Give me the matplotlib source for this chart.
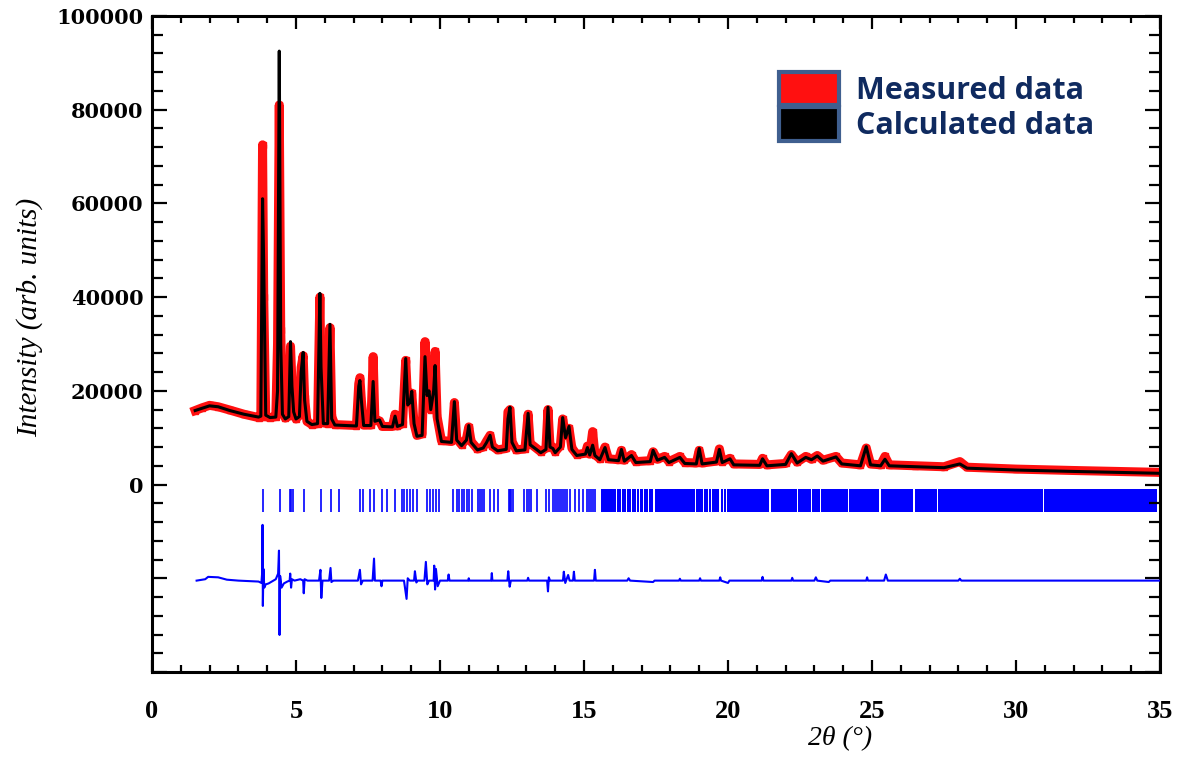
import matplotlib
matplotlib.use('Agg')
import matplotlib.pyplot as plt
from matplotlib.patches import Patch
from matplotlib.ticker import MultipleLocator

# profile vertices (2theta, calculated, measured)
two_theta = [
    1.50, 1.75, 2.00, 2.30, 2.70, 3.20, 3.70, 3.78, 3.84, 3.88,
    3.95, 4.10, 4.30, 4.36, 4.42, 4.47, 4.53, 4.63, 4.75, 4.81,
    4.86, 4.92, 5.00, 5.12, 5.18, 5.25, 5.30, 5.38, 5.55, 5.75,
    5.83, 5.87, 5.95, 6.10, 6.18, 6.24, 6.35, 7.10, 7.18, 7.22,
    7.27, 7.35, 7.60, 7.68, 7.74, 7.90, 8.00, 8.35, 8.44, 8.52,
    8.70, 8.81, 8.88, 8.96, 9.02, 9.10, 9.20, 9.38, 9.48, 9.55,
    9.62, 9.68, 9.78, 9.83, 9.90, 10.05, 10.40, 10.50, 10.58, 10.75,
    10.92, 11.00, 11.08, 11.30, 11.50, 11.62, 11.74, 11.82, 12.00, 12.30,
    12.36, 12.43, 12.50, 12.65, 12.95, 13.06, 13.13, 13.50, 13.68, 13.75,
    13.82, 13.92, 14.00, 14.18, 14.26, 14.36, 14.48, 14.58, 14.75, 15.05,
    15.12, 15.20, 15.30, 15.38, 15.55, 15.73, 15.85, 16.20, 16.30, 16.40,
    16.65, 16.80, 17.30, 17.40, 17.55, 17.80, 17.95, 18.33, 18.50, 18.90,
    19.00, 19.10, 19.60, 19.70, 19.80, 20.07, 20.20, 21.10, 21.20, 21.35,
    22.00, 22.20, 22.40, 22.70, 22.90, 23.10, 23.30, 23.75, 23.95, 24.60,
    24.80, 24.95, 25.30, 25.45, 25.60, 26.50, 27.50, 28.05, 28.30, 30.00,
    32.00, 35.00]

y_calc = [
    15800, 16300, 16800, 16600, 15800, 15000, 14400, 14600, 61000, 47000,
    14800, 14300, 14400, 20000, 92500, 30000, 15000, 14000, 14500, 30500,
    21000, 15500, 14000, 14500, 24000, 28200, 18000, 13500, 12800, 13000,
    40800, 25000, 13000, 13000, 34200, 14000, 12700, 12500, 21000, 22200,
    18000, 12600, 12600, 22000, 13500, 13800, 12400, 12300, 14600, 12400,
    12800, 26900, 17000, 17500, 19900, 13000, 10300, 10500, 27300, 19000,
    20000, 16000, 20000, 25400, 14000, 9200, 9000, 17700, 9500, 8300,
    9500, 12600, 9000, 7400, 7800, 9000, 10500, 8000, 7200, 7500,
    14000, 16500, 9000, 7200, 7400, 15200, 8500, 6800, 7500, 16500,
    8000, 7700, 6800, 8000, 14300, 10000, 12400, 7500, 6200, 6500,
    7900, 6300, 8400, 6200, 5300, 7900, 5300, 5100, 7500, 5000,
    6200, 4700, 4900, 7300, 5200, 5800, 4700, 5800, 4500, 4400,
    7700, 4400, 4800, 7500, 4700, 5500, 4200, 4100, 5500, 4000,
    4300, 6600, 4600, 5800, 5300, 6100, 5000, 5900, 4400, 4000,
    8100, 4200, 4000, 5400, 4000, 3800, 3600, 4400, 3500, 3100,
    2800, 2400]

y_obs = [
    15800, 16400, 16900, 16600, 15900, 15000, 14300, 14500, 72500, 40000,
    14500, 14300, 14500, 30000, 81000, 33000, 15200, 14200, 14600, 29500,
    22000, 15500, 14000, 14800, 25000, 27500, 18500, 13500, 12800, 13000,
    40000, 24000, 13200, 13000, 33500, 14500, 12800, 12600, 21500, 22800,
    18000, 12700, 12700, 27300, 13800, 13600, 12400, 12400, 15000, 12500,
    13000, 26500, 17500, 18000, 19500, 13000, 10500, 10800, 30500, 19500,
    21000, 16000, 21500, 28400, 14500, 9400, 9200, 17500, 9800, 8500,
    9800, 12300, 9200, 7600, 8000, 9300, 10500, 8200, 7400, 7700,
    15500, 16000, 9200, 7400, 7600, 15000, 8800, 7000, 7800, 16000,
    8300, 8000, 7000, 8300, 14000, 10500, 12000, 7800, 6400, 6700,
    8200, 6500, 11300, 6400, 5500, 8000, 5500, 5300, 7300, 5200,
    6400, 4900, 5100, 7000, 5400, 6000, 4900, 6000, 4700, 4600,
    7300, 4600, 5000, 7600, 4900, 5600, 4400, 4300, 5600, 4200,
    4500, 6400, 4800, 6000, 5400, 6200, 5200, 6000, 4600, 4200,
    7800, 4400, 4200, 6000, 4200, 4000, 3800, 4900, 3700, 3300,
    3000, 2600]

# difference curve (obs - calc), drawn shifted down
diff_theta = [
    1.55, 1.85, 1.95, 2.30, 2.60, 3.00, 3.70, 3.80, 3.83, 3.84, 3.85, 3.87,
    3.90, 3.95, 4.05, 4.30, 4.38, 4.41, 4.43, 4.45, 4.50, 4.58, 4.70, 4.78,
    4.80, 4.83, 4.86, 4.95, 5.15, 5.25, 5.27, 5.30, 5.40, 5.80, 5.85, 5.88,
    5.92, 6.15, 6.20, 6.23, 6.30, 7.15, 7.22, 7.26, 7.32, 7.66, 7.71, 7.74,
    7.94, 7.97, 8.00, 8.75, 8.84, 8.88, 8.95, 9.10, 9.13, 9.18, 9.22, 9.46,
    9.51, 9.56, 9.62, 9.78, 9.80, 9.83, 9.86, 9.92, 10.00, 10.27, 10.30, 10.33,
    10.98, 11.00, 11.02, 11.78, 11.80, 11.82, 12.34, 12.37, 12.42, 12.46, 13.03, 13.06,
    13.09, 13.72, 13.75, 13.78, 13.82, 14.27, 14.30, 14.35, 14.45, 14.50, 14.62, 14.65,
    14.68, 15.35, 15.38, 15.41, 16.50, 16.55, 16.60, 17.40, 17.45, 18.30, 18.33, 18.36,
    19.00, 19.03, 19.06, 19.70, 19.73, 19.76, 20.00, 20.05, 21.17, 21.20, 21.23, 22.20,
    22.23, 22.26, 23.00, 23.05, 23.10, 23.50, 23.55, 24.80, 24.83, 24.86, 25.42, 25.48,
    25.55, 28.00, 28.05, 28.10, 35.00]
diff_val = [
    0, 300, 800, 700, 200, 0, -200, -500, 2000, 11900, -5400, 2500,
    -1500, -800, -600, 300, 1500, 6400, -11600, 1000, -1500, -600, -200, 0,
    1500, -1500, 300, 0, 300, 0, -2700, 300, 0, 0, 2300, -3700,
    0, 0, 2700, -300, 0, 0, 2300, -800, 0, 0, 4700, 0,
    0, -1200, 0, 0, -3900, 500, 0, 0, 2000, -400, 0, 0,
    4000, -800, 0, 0, 3200, -1900, 2500, -1200, 0, 0, 1300, 0,
    0, 500, 0, 0, 1600, 0, 0, 2000, -1300, 0, 0, 600,
    0, 0, -2300, 700, 0, 0, 1900, -500, 1200, 0, 0, 1900,
    0, 0, 2300, 0, 0, 500, 0, -300, 0, 0, 400, 0,
    0, 500, 0, 0, 700, 0, -500, 0, 0, 800, 0, 0,
    600, 0, 0, 700, 0, -300, 0, 0, 700, 0, 0, 1300,
    0, 0, 400, 0, 0]
diff_offset = -20500

# Bragg reflection positions (single lines) and ranges where they merge
bragg_pos = [
    3.84, 4.44, 4.78, 4.83, 4.88, 5.28, 5.86, 6.20, 6.49, 7.22, 7.32, 7.57,
    7.71, 7.97, 8.17, 8.44, 8.67, 8.75, 8.84, 8.96, 9.07, 9.19, 9.54, 9.65,
    9.77, 9.86, 9.98, 10.46, 10.58, 10.67, 10.75, 10.83, 10.95, 11.02, 11.10,
    11.33, 11.38, 11.45, 11.54, 11.74, 11.88, 12.02, 12.38, 12.43, 12.48, 12.53,
    12.92, 13.03, 13.09, 13.15, 13.36, 13.68, 13.80, 13.93, 13.98, 14.05, 14.12,
    14.20, 14.28, 14.35, 14.42, 14.50, 14.69, 14.84, 14.98, 15.10, 15.17, 15.24,
    15.31, 15.38]
bragg_bands = [
    (15.60, 16.10), (16.15, 16.29), (16.33, 16.46), (16.50, 16.63), (16.67, 16.81),
    (16.85, 16.92), (16.96, 17.06), (17.10, 17.21), (17.25, 17.40), (17.45, 18.85),
    (18.90, 19.12), (19.16, 19.30), (19.34, 19.41), (19.45, 19.70), (19.74, 19.82),
    (19.86, 19.93), (19.97, 21.44), (21.48, 22.38), (22.42, 22.88), (22.92, 23.18),
    (23.22, 24.16), (24.20, 25.26), (25.30, 26.44), (26.48, 27.26), (27.30, 30.93),
    (30.97, 34.90)]
tick_lo, tick_hi = -5800, -1000

fig = plt.figure(figsize=(11.9, 7.57), dpi=100)
ax = fig.add_axes([0.1277, 0.1123, 0.8471, 0.8666])

ax.plot(two_theta, y_obs, color='#ff1010', lw=6.5, marker='s', ms=5,
        solid_joinstyle='round', zorder=2)
ax.plot(two_theta, y_calc, color='black', lw=2.2, solid_joinstyle='round', zorder=3)
ax.plot(diff_theta, [v + diff_offset for v in diff_val], color='#0000ff', lw=1.5, zorder=3)
ax.vlines(bragg_pos, tick_lo, tick_hi, color='#0000ff', lw=1.2)
ax.broken_barh([(a, b - a) for a, b in bragg_bands], (tick_lo, tick_hi - tick_lo),
               facecolor='#0000ff', edgecolor='none')

ax.set_xlim(0, 35)
ax.set_ylim(-40000, 100000)

yt = list(range(-40000, 100001, 20000))
ax.set_yticks(yt, [str(v) if v >= 0 else '' for v in yt])
ax.yaxis.set_minor_locator(MultipleLocator(4000))
ax.set_xticks(range(0, 36, 5))
ax.xaxis.set_minor_locator(MultipleLocator(1))

ax.tick_params(which='both', direction='in', top=True, right=True, width=1.6)
ax.tick_params(axis='y', which='major', length=11, pad=6)
ax.tick_params(axis='y', which='minor', length=8)
ax.tick_params(axis='x', which='major', length=9, pad=20)
ax.tick_params(axis='x', which='minor', length=5)
for s in ax.spines.values():
    s.set_linewidth(2.2)

for lab in ax.get_yticklabels():
    lab.set_fontfamily('DejaVu Serif')
    lab.set_fontweight('bold')
    lab.set_fontsize(15)
for lab in ax.get_xticklabels():
    lab.set_fontfamily('Liberation Serif')
    lab.set_fontweight('bold')
    lab.set_fontsize(19)

ax.set_xlabel('2θ (°)', family='Liberation Serif', style='italic', fontsize=20)
ax.xaxis.set_label_coords(0.683, -0.082)
ax.set_ylabel('Intensity (arb. units)', family='Liberation Serif', style='italic', fontsize=21)
ax.yaxis.set_label_coords(-0.108, 0.54)

handles = [Patch(facecolor='#ff1010', edgecolor='#3f5f8f', lw=3),
           Patch(facecolor='black', edgecolor='#3f5f8f', lw=3)]
ax.legend(handles, ['Measured data', 'Calculated data'], loc='upper left',
          bbox_to_anchor=(0.655, 0.905), bbox_transform=fig.transFigure,
          frameon=False, borderpad=0, borderaxespad=0,
          handlelength=1.95, handleheight=1.3, handletextpad=0.55, labelspacing=0.05,
          prop={'family': 'Open Sans', 'weight': 'bold', 'size': 22},
          labelcolor='#0f2a5f')

fig.savefig('out.png', dpi=100)
